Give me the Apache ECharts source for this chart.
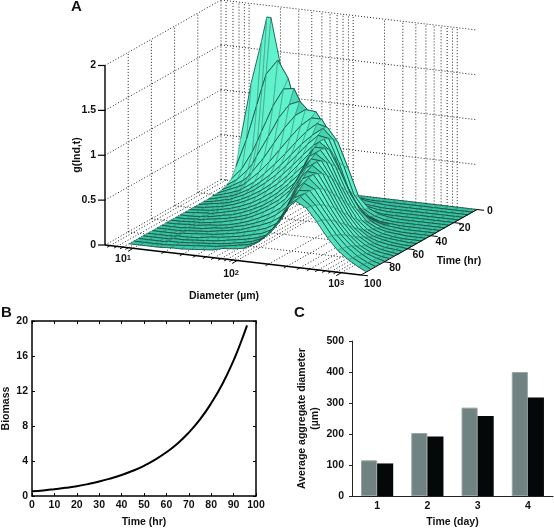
<!DOCTYPE html>
<html><head><meta charset="utf-8">
<style>html,body{margin:0;padding:0;background:#fff}#c{width:554px;height:529px}</style>
<script src="https://cdn.jsdelivr.net/npm/echarts@6/dist/echarts.min.js"></script>
</head><body><div id="c"></div>
<script>
// ---- Panel A data ----
const diameters = [8.3,10.5,13.2,14.8,16.2,20.9,26.3,33.1,41.7,52.5,66.1,83.2,105,132,166,209,263,331,417,525,661,832,1050,1320,1550];
const times = [0,4,8,12,16,20,24,28,32,36,40,44,48,52,56,60,64,68,72,76,80,84,88,92,96];
const g00=[.48,1.12,1.60,1.87,1.87,1.25,.62,.26,.10,.04,.02,.01,0,0,0,0,0,0,0,0,0,0,0,0,0];
const g04=[.20,.52,.92,1.12,1.27,1.44,1.25,.85,.48,.25,.12,.06,.03,.01,0,0,0,0,0,0,0,0,0,0,0];
const g08=[.09,.22,.42,.55,.66,.96,1.16,1.18,.95,.62,.36,.20,.10,.05,.02,.01,0,0,0,0,0,0,0,0,0];
const g12=[.05,.13,.25,.33,.42,.65,.87,1.03,1.08,.97,.72,.47,.20,.07,.02,.01,0,0,0,0,0,0,0,0,0];
const g16=[.03,.09,.16,.21,.27,.44,.62,.80,.95,1.03,1.02,.85,.58,.30,.10,.03,.01,0,0,0,0,0,0,0,0];
const g20=[.02,.07,.12,.15,.19,.31,.44,.59,.74,.88,.98,.98,.80,.55,.20,.07,.02,0,0,0,0,0,0,0,0];
const g24=[.02,.05,.09,.11,.14,.23,.34,.46,.59,.73,.86,.96,.93,.78,.50,.20,.08,.03,.01,0,0,0,0,0,0];
const g28=[.01,.04,.07,.09,.11,.18,.27,.37,.49,.62,.75,.86,.95,.84,.56,.25,.10,.04,.01,0,0,0,0,0,0];
const g32=[.01,.03,.06,.07,.09,.15,.22,.31,.41,.53,.66,.79,.90,.88,.62,.32,.14,.06,.02,.01,0,0,0,0,0];
const g36=[.01,.03,.05,.06,.07,.12,.18,.25,.34,.45,.57,.70,.82,.90,.72,.46,.25,.11,.05,.02,.01,0,0,0,0];
const g40=[.01,.02,.04,.05,.06,.10,.15,.21,.29,.38,.49,.62,.75,.90,.82,.60,.36,.18,.08,.03,.01,0,0,0,0];
const g44=[.01,.02,.03,.04,.05,.08,.12,.17,.24,.32,.42,.54,.66,.87,.87,.68,.43,.24,.11,.05,.02,.01,0,0,0];
const g48=[.01,.02,.03,.03,.04,.07,.10,.14,.20,.27,.36,.47,.59,.80,.88,.74,.50,.30,.15,.07,.03,.01,0,0,0];
const g52=[.01,.01,.02,.03,.03,.06,.08,.12,.17,.23,.31,.41,.52,.72,.87,.79,.58,.36,.19,.09,.04,.02,.01,0,0];
const g56=[.01,.01,.02,.02,.03,.05,.07,.10,.14,.20,.27,.35,.47,.66,.84,.83,.65,.43,.24,.12,.06,.03,.01,0,0];
const g60=[.01,.01,.02,.02,.02,.04,.06,.09,.12,.17,.23,.30,.40,.57,.77,.85,.71,.49,.30,.16,.08,.04,.02,.01,0];
const g64=[.01,.01,.02,.02,.02,.04,.05,.07,.10,.14,.19,.25,.33,.47,.70,.84,.76,.55,.35,.20,.11,.05,.02,.01,0];
const g68=[.01,.01,.01,.02,.02,.03,.05,.06,.09,.12,.16,.21,.28,.38,.61,.80,.79,.61,.41,.25,.14,.07,.03,.01,0];
const g72=[.01,.01,.01,.01,.02,.03,.04,.06,.08,.10,.14,.18,.23,.31,.52,.75,.81,.66,.47,.30,.17,.09,.04,.02,.01];
const g76=[.01,.01,.01,.01,.02,.03,.04,.05,.07,.09,.12,.15,.19,.26,.44,.68,.80,.70,.51,.34,.21,.11,.05,.02,.01];
const g80=[.01,.01,.01,.01,.02,.02,.03,.05,.06,.08,.10,.13,.16,.22,.38,.60,.77,.72,.55,.39,.25,.14,.07,.03,.01];
const g84=[.01,.01,.01,.01,.02,.02,.03,.04,.05,.07,.09,.11,.14,.19,.33,.53,.72,.73,.59,.43,.28,.17,.09,.03,.01];
const g88=[.01,.01,.01,.01,.02,.02,.03,.04,.05,.06,.08,.10,.13,.18,.30,.48,.67,.73,.61,.46,.31,.19,.10,.04,.01];
const g92=[.01,.01,.01,.01,.01,.02,.03,.04,.05,.06,.08,.10,.12,.17,.28,.44,.63,.72,.63,.49,.33,.20,.11,.05,.01];
const g96=[.01,.01,.01,.01,.01,.02,.02,.03,.04,.05,.08,.09,.11,.17,.27,.40,.60,.70,.64,.50,.34,.21,.12,.05,.01];
const gRows=[g00,g04,g08,g12,g16,g20,g24,g28,g32,g36,g40,g44,g48,g52,g56,g60,g64,g68,g72,g76,g80,g84,g88,g92,g96];
const zTicks=[0,0.5,1,1.5,2];
const zLabels=['0','0.5','1','1.5','2'];
const timeTicks=[0,20,40,60,80,100];
const diaMajor=[10,100,1000];
const diaMinor=[6,7,8,9,20,30,40,50,60,70,80,90,200,300,400,500,600,700,800,900];
// ---- Panel B data ----
const biomassTime=[0,5,10,15,20,25,30,35,40,45,50,55,60,65,70,75,80,85,90,93,96];
const biomass=[.53,.64,.78,.93,1.12,1.36,1.65,2.0,2.4,2.88,3.45,4.15,5.0,6.0,7.25,8.75,10.6,12.8,15.5,17.4,19.5];
// ---- Panel C data ----
const days=['1','2','3','4'];
const diamGray=[115,203,285,400];
const diamBlack=[105,192,258,318];

const LMIN=0.73, LMAX=3.19;
function P(d,t,z){ // 3D -> plane of the hidden grid
  const a=(Math.log10(d)-LMIN)/(LMAX-LMIN), b=(100-t)/100;
  return [105+a*256+b*116, 245+a*30-b*65.5-z*89.75];
}
const dLo=Math.pow(10,LMIN), dHi=Math.pow(10,LMAX);
const gridSegs=[];
zTicks.forEach(z=>{ if(z>0) gridSegs.push([dLo,100,z,dLo,0,z]); gridSegs.push([dLo,0,z,dHi,0,z]); });
[20,40,60,80,0].forEach(t=>{ gridSegs.push([dLo,t,0,dLo,t,2]); if(t>0) gridSegs.push([dLo,t,0,dHi,t,0]); });
diaMajor.concat(diaMinor).forEach(d=>{ gridSegs.push([d,0,0,d,0,2]); gridSegs.push([d,0,0,d,100,0]); });
gridSegs.push([dLo,100,0,dLo,0,0]);

const quads=[];
for(let i=0;i<times.length-1;i++)for(let j=0;j<diameters.length-1;j++)quads.push([i,j]);

const A0=[56,196,162],B0=[96,242,204],D0=[30,92,78];
const mix=(s,d)=>'rgb('+A0.map((v,k)=>{const c=v+(B0[k]-v)*s;return Math.round(c+(D0[k]-c)*d);}).join(',')+')';
const FONT='bold 10.5px "Liberation Sans",Arial,sans-serif';
const col='#111';

const labelItems=[];
zTicks.forEach((z,i)=>labelItems.push({p:[dLo,100,z],dx:-9,dy:0,text:zLabels[i],align:'right'}));
timeTicks.forEach(t=>labelItems.push({p:[dHi,t,0],dx:t===100?3:(t===0?10:5),dy:t===100?9:(t===0?2:6),text:String(t),align:'left'}));
diaMajor.forEach((d,i)=>labelItems.push({p:[d,100,0],dx:[-18,-14,-13][i],dy:[11,13.5,11.5][i],text:'{a|10}{s|'+(i+1)+'}',align:'left',rich:true}));

const axisCommonB={axisLine:{show:true,onZero:false,lineStyle:{color:'#000',width:1.5}},axisTick:{inside:true,length:3,lineStyle:{color:'#000'}},splitLine:{show:false}};
const option={
  animation:false,
  textStyle:{fontFamily:'"Liberation Sans",Arial,sans-serif'},
  title:[
    {text:'A',left:71,top:-1,padding:0,textStyle:{fontSize:15,fontWeight:'bold',color:col}},
    {text:'B',left:1,top:305,padding:0,textStyle:{fontSize:15,fontWeight:'bold',color:col}},
    {text:'C',left:294,top:305,padding:0,textStyle:{fontSize:15,fontWeight:'bold',color:col}}
  ],
  grid:[
    {left:0,top:0,width:554,height:529,show:false},
    {left:30,top:321,width:226,height:176,show:false},
    {left:352,top:341,width:201,height:155,show:false}
  ],
  xAxis:[
    {gridIndex:0,type:'value',min:0,max:554,show:false},
    Object.assign({gridIndex:1,type:'value',min:0,max:100,interval:10,name:'Time (hr)',nameLocation:'middle',nameGap:21,
     nameTextStyle:{fontSize:10.5,fontWeight:'bold',color:col},
     axisLabel:{fontSize:10.5,fontWeight:'bold',color:col,margin:4}},axisCommonB),
    Object.assign({gridIndex:1,type:'value',position:'top',min:0,max:100,interval:10,axisLabel:{show:false}},axisCommonB),
    {gridIndex:2,type:'category',data:days,name:'Time (day)',nameLocation:'middle',nameGap:21,
     nameTextStyle:{fontSize:10.5,fontWeight:'bold',color:col},
     axisLine:{show:true,lineStyle:{color:'#222',width:1}},axisTick:{length:3,lineStyle:{color:'#222'}},
     axisLabel:{fontSize:10.5,fontWeight:'bold',color:col,margin:5}}
  ],
  yAxis:[
    {gridIndex:0,type:'value',min:0,max:529,inverse:true,show:false},
    Object.assign({gridIndex:1,type:'value',min:0,max:20,interval:4,name:'Biomass',nameLocation:'middle',nameGap:20,
     nameTextStyle:{fontSize:10.5,fontWeight:'bold',color:col},
     axisLabel:{fontSize:10.5,fontWeight:'bold',color:col,margin:4}},axisCommonB),
    Object.assign({gridIndex:1,type:'value',position:'right',min:0,max:20,interval:4,axisLabel:{show:false}},axisCommonB),
    {gridIndex:2,type:'value',min:0,max:500,interval:100,name:'Average aggregate diameter\n(µm)',nameLocation:'middle',nameGap:30,
     nameTextStyle:{fontSize:10.5,fontWeight:'bold',color:col,lineHeight:13},
     axisLine:{show:true,lineStyle:{color:'#222',width:1}},axisTick:{show:true,length:3,lineStyle:{color:'#222'}},
     axisLabel:{fontSize:10.5,fontWeight:'bold',color:col,margin:8},splitLine:{show:false}}
  ],
  series:[
    {type:'custom',xAxisIndex:0,yAxisIndex:0,silent:true,clip:false,z:1,data:gridSegs.map((s,i)=>[i,0]),
     renderItem(p,api){const s=gridSegs[api.value(0)];const a=api.coord(P(s[0],s[1],s[2])),b=api.coord(P(s[3],s[4],s[5]));
       return {type:'line',shape:{x1:a[0],y1:a[1],x2:b[0],y2:b[1]},style:{stroke:'#222',lineWidth:1,lineDash:[1,2],fill:null}};}},
    {type:'custom',xAxisIndex:0,yAxisIndex:0,silent:true,clip:false,z:2,data:quads,
     renderItem(p,api){const i=api.value(0),j=api.value(1);
       const z00=gRows[i][j],z01=gRows[i][j+1],z10=gRows[i+1][j],z11=gRows[i+1][j+1];
       const pts=[[i,j,z00],[i,j+1,z01],[i+1,j+1,z11],[i+1,j,z10]].map(q=>api.coord(P(diameters[q[1]],times[q[0]],q[2])));
       const sl=Math.abs(z01-z00+z11-z10)*2.2+Math.abs(z10-z00+z11-z01)*4;
       // quads seen nearly edge-on read as a dark fold
       const ux=pts[1][0]-pts[0][0],uy=pts[1][1]-pts[0][1],vx=pts[3][0]-pts[0][0],vy=pts[3][1]-pts[0][1];
       const area=ux*vy-uy*vx;
       const dark=(i>=6&&j>=10&&j<=20)?Math.max(0,Math.min(0.85,1-Math.abs(area)/24)):0;
       const fill=mix(Math.min(1,sl),dark);
       const seg=(a,b,w,c)=>({type:'line',shape:{x1:a[0],y1:a[1],x2:b[0],y2:b[1]},style:{stroke:c,lineWidth:w}});
       return {type:'group',children:[
         {type:'polygon',shape:{points:pts},style:{fill,stroke:fill,lineWidth:0.4}},
         seg(pts[0],pts[3],0.45,'#2a7565'),seg(pts[1],pts[2],0.45,'#2a7565'),
         seg(pts[0],pts[1],0.75,'#123f35'),seg(pts[3],pts[2],0.75,'#123f35')
       ]};}},
    {type:'custom',xAxisIndex:0,yAxisIndex:0,silent:true,clip:false,z:3,data:[[0,0]],
     renderItem(p,api){const kids=[];
       const L=(a,b,w)=>{const A=api.coord(a),B=api.coord(b);kids.push({type:'line',shape:{x1:A[0],y1:A[1],x2:B[0],y2:B[1]},style:{stroke:'#000',lineWidth:w}});};
       L(P(dLo,100,0),P(dLo,100,2),1.4);L(P(dLo,100,0),P(dHi,100,0),1.4);L(P(dHi,100,0),P(dHi,0,0),1);
       zTicks.forEach(z=>{const q=P(dLo,100,z);L(q,[q[0]-7,q[1]],1.2);});
       timeTicks.forEach(t=>{const q=P(dHi,t,0);L(q,[q[0]+7,q[1]+0.8],1);});
       diaMajor.forEach(d=>{const q=P(d,100,0);L(q,[q[0]-5,q[1]+3],1);});
       diaMinor.forEach(d=>{const q=P(d,100,0);L(q,[q[0]-3,q[1]+1.7],0.9);});
       labelItems.forEach(o=>{const q=api.coord(P(o.p[0],o.p[1],o.p[2]));
         kids.push({type:'text',style:{x:q[0]+o.dx,y:q[1]+o.dy,text:o.text,align:o.align,verticalAlign:'middle',fill:col,font:FONT,
           rich:o.rich?{a:{font:FONT,fill:col},s:{font:'bold 7.5px "Liberation Sans",Arial,sans-serif',fill:col,verticalAlign:'top',padding:[0,0,3,0]}}:undefined}});});
       const T=(t,x,y,r)=>{const c=api.coord([x,y]);kids.push({type:'text',x:c[0],y:c[1],rotation:r||0,style:{x:0,y:0,text:t,align:'center',verticalAlign:'middle',fill:col,font:FONT}});};
       T('Diameter (µm)',224,296);T('Time (hr)',459,261);T('g(Ind,t)',77,155,Math.PI/2);
       return {type:'group',children:kids};}},
    {type:'line',xAxisIndex:1,yAxisIndex:1,data:biomassTime.map((t,i)=>[t,biomass[i]]),smooth:0.5,symbol:'none',
     lineStyle:{color:'#000',width:2}},
    {type:'bar',xAxisIndex:3,yAxisIndex:3,data:diamGray,barGap:0,barCategoryGap:'36%',
     itemStyle:{color:'#708282',borderColor:'#98a4a4',borderWidth:1}},
    {type:'bar',xAxisIndex:3,yAxisIndex:3,data:diamBlack,
     itemStyle:{color:'#050808'}}
  ]
};
const chart=echarts.init(document.getElementById('c'),null,{renderer:'canvas',width:554,height:529});
chart.setOption(option);
</script></body></html>
